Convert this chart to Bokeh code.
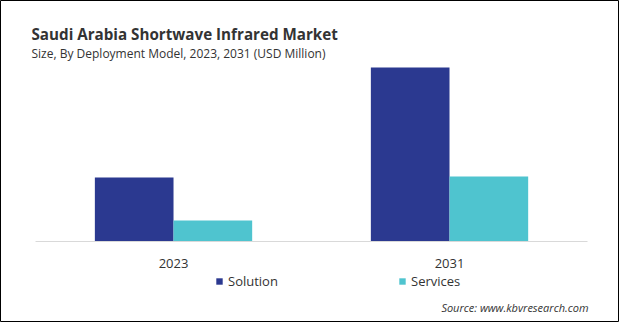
from bokeh.plotting import figure
from bokeh.models import ColumnDataSource, FactorRange, Range1d, Label, Legend, LegendItem
from bokeh.transform import dodge
from bokeh.core.properties import value
from bokeh.embed import file_html
from bokeh.resources import INLINE

years = ["2023", "2031"]
solution = [64, 174]
services = [21, 65]
series_names = ["Solution", "Services"]
series_colors = ["#2B3990", "#4FC4CF"]
title_text = "Saudi Arabia Shortwave Infrared Market"
subtitle_text = "Size, By Deployment Model, 2023, 2031 (USD Million)"
source_text = "Source: www.kbvresearch.com"

W, H = 619, 322
FONT = "Open Sans"
TXT = "#333333"

src = ColumnDataSource(dict(year=years, solution=solution, services=services,
                            zero=[0, 0], lab_y=[-22, -22]))

x_range = FactorRange(factors=years, range_padding=0.1214, range_padding_units="absolute")
p = figure(width=W, height=H, x_range=x_range, y_range=Range1d(-81, 241),
           output_backend="svg", toolbar_location=None,
           min_border=0, min_border_left=0, min_border_right=0,
           min_border_top=0, min_border_bottom=0)
p.axis.visible = False
p.grid.visible = False
p.outline_line_color = "#000000"
p.outline_line_width = 1
p.background_fill_color = "white"
p.border_fill_color = "white"

bw = 0.285
sh = 0.0055  # small horizontal shift to match reference placement
r1 = p.vbar(x=dodge("year", -bw / 2 + sh, range=p.x_range), top="solution", bottom="zero",
            width=bw, source=src, fill_color=series_colors[0], line_color=None)
r2 = p.vbar(x=dodge("year", bw / 2 + sh, range=p.x_range), top="services", bottom="zero",
            width=bw, source=src, fill_color=series_colors[1], line_color=None)

# baseline across both categories
base = ColumnDataSource(dict(x0=[years[0]], x1=[years[-1]], y=[0]))
p.segment(x0=dodge("x0", -0.5 + sh, range=p.x_range), x1=dodge("x1", 0.5 + sh, range=p.x_range),
          y0="y", y1="y", source=base, line_color="#D9D9D9", line_width=1)

# category labels
p.text(x=dodge("year", sh, range=p.x_range), y="lab_y", text="year", source=src,
       text_align="center", text_baseline="alphabetic", text_font=value(FONT),
       text_font_size="13px", text_color=TXT)

p.add_layout(Label(x=31, y=H - 33, x_units="screen", y_units="screen", text=title_text,
                   text_font=FONT, text_font_size="15.2px", text_font_style="bold",
                   text_color=TXT, text_baseline="alphabetic"))
p.add_layout(Label(x=31, y=H - 53, x_units="screen", y_units="screen", text=subtitle_text,
                   text_font=FONT, text_font_size="12px", text_color=TXT,
                   text_baseline="alphabetic"))
p.add_layout(Label(x=588, y=H - 307, x_units="screen", y_units="screen", text=source_text,
                   text_font=FONT, text_font_size="11px", text_font_style="italic",
                   text_color=TXT, text_baseline="alphabetic", text_align="right"))

legend = Legend(items=[LegendItem(label=series_names[0], renderers=[r1]),
                       LegendItem(label=series_names[1], renderers=[r2])],
                orientation="horizontal", location=(215, H - 290),
                glyph_width=8, glyph_height=8, label_standoff=5, label_width=170,
                label_height=16, spacing=0, padding=0, margin=0,
                border_line_color=None, background_fill_alpha=0,
                label_text_font=FONT, label_text_font_size="13px",
                label_text_color=TXT)
p.add_layout(legend)

open("out.html", "w").write(file_html(p, INLINE))
